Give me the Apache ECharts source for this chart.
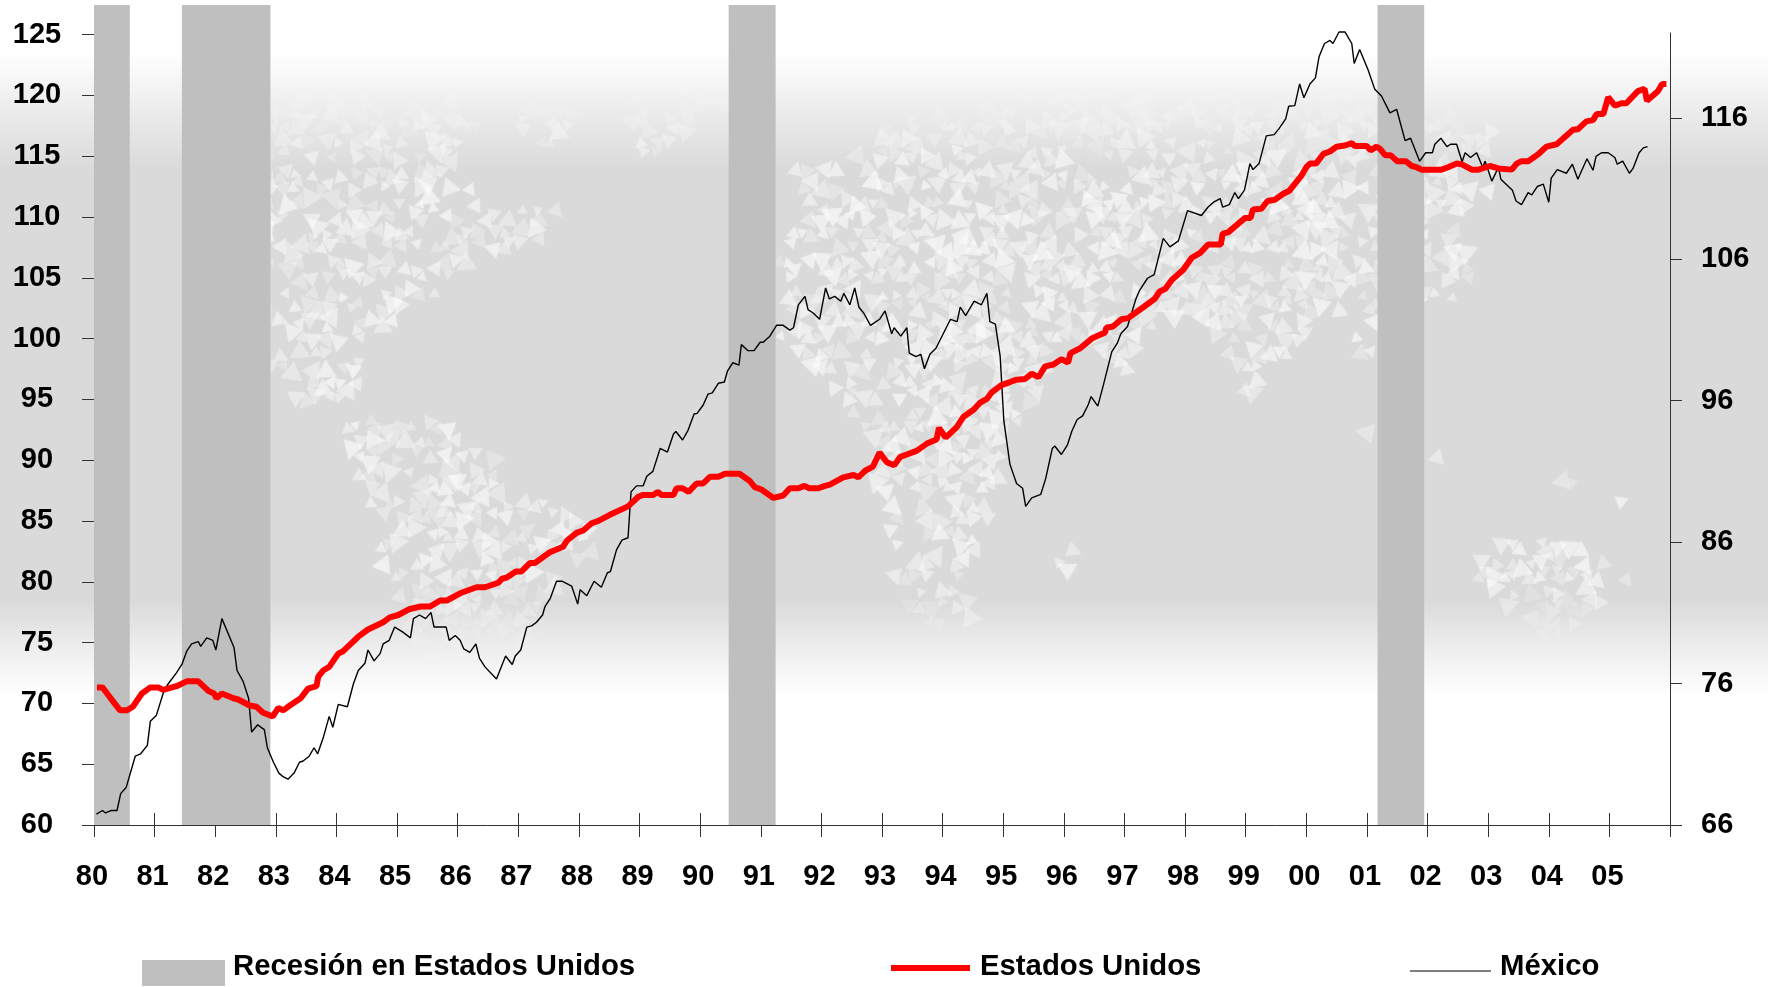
<!DOCTYPE html>
<html><head><meta charset="utf-8"><style>html,body{margin:0;padding:0;background:#fff}#c{width:1768px;height:987px}</style>
<script src="https://cdn.jsdelivr.net/npm/echarts@6/dist/echarts.min.js"></script></head><body><div id="c"></div>
<script>
const leftTicks=[60,65,70,75,80,85,90,95,100,105,110,115,120,125];
const rightTicks=[66,76,86,96,106,116];
const yearTicks=[1980,1981,1982,1983,1984,1985,1986,1987,1988,1989,1990,1991,1992,1993,1994,1995,1996,1997,1998,1999,2000,2001,2002,2003,2004,2005,2006];
const yearLabels=yearTicks.slice(0,26);
const recesiones=[[1980,1980.59],[1981.45,1982.91],[1990.47,1991.245],[2001.175,2001.945]];
const mexico=[[1980.04,60.9],[1980.14,61.2],[1980.19,61.0],[1980.28,61.2],[1980.38,61.2],[1980.44,62.6],[1980.53,63.1],[1980.68,65.7],[1980.77,65.9],[1980.88,66.6],[1980.93,68.6],[1981.03,69.1],[1981.14,70.9],[1981.21,71.6],[1981.36,72.6],[1981.45,73.3],[1981.53,74.4],[1981.61,75.0],[1981.72,75.2],[1981.76,74.8],[1981.86,75.5],[1981.96,75.3],[1982.01,74.5],[1982.11,77.1],[1982.31,74.7],[1982.36,72.8],[1982.46,71.9],[1982.55,70.5],[1982.60,67.7],[1982.70,68.3],[1982.81,67.9],[1982.86,66.4],[1982.96,65.2],[1983.05,64.3],[1983.12,64.0],[1983.20,63.8],[1983.30,64.3],[1983.39,65.2],[1983.45,65.3],[1983.55,65.7],[1983.63,66.4],[1983.69,65.9],[1983.78,67.2],[1983.88,69.0],[1983.94,68.1],[1984.03,70.0],[1984.18,69.8],[1984.28,71.7],[1984.36,72.8],[1984.47,73.4],[1984.52,74.5],[1984.62,73.6],[1984.72,74.2],[1984.77,75.0],[1984.87,75.3],[1984.96,76.4],[1985.09,76.0],[1985.22,75.5],[1985.27,77.1],[1985.37,77.4],[1985.47,77.1],[1985.56,77.6],[1985.61,76.4],[1985.81,76.4],[1985.86,75.3],[1985.96,75.7],[1986.04,75.3],[1986.10,74.6],[1986.20,74.3],[1986.30,75.0],[1986.36,73.8],[1986.45,73.1],[1986.64,72.1],[1986.79,74.0],[1986.90,73.3],[1986.95,74.0],[1987.04,74.5],[1987.14,76.4],[1987.22,76.5],[1987.30,76.8],[1987.40,77.4],[1987.44,78.1],[1987.53,78.8],[1987.63,80.2],[1987.72,80.2],[1987.88,79.8],[1987.98,78.3],[1988.02,79.5],[1988.13,79.0],[1988.25,80.2],[1988.37,79.7],[1988.47,80.9],[1988.52,81.0],[1988.62,82.8],[1988.71,83.6],[1988.81,83.8],[1988.86,87.6],[1988.95,88.1],[1989.06,88.1],[1989.12,88.9],[1989.22,89.3],[1989.34,91.2],[1989.46,90.9],[1989.56,92.4],[1989.60,92.6],[1989.71,91.9],[1989.80,92.7],[1989.90,94.05],[1989.95,94.1],[1990.05,94.8],[1990.13,95.7],[1990.20,95.8],[1990.30,96.6],[1990.40,96.7],[1990.45,97.6],[1990.54,98.3],[1990.64,98.1],[1990.68,99.8],[1990.79,99.3],[1990.89,99.3],[1990.99,100.0],[1991.04,100.0],[1991.15,100.5],[1991.26,101.4],[1991.37,101.4],[1991.48,101.0],[1991.54,101.2],[1991.62,103.1],[1991.73,103.8],[1991.78,102.7],[1991.87,102.4],[1991.97,101.9],[1992.07,104.5],[1992.13,103.6],[1992.22,103.8],[1992.32,103.4],[1992.37,104.05],[1992.47,103.1],[1992.55,104.5],[1992.62,102.9],[1992.70,102.4],[1992.81,101.4],[1992.96,101.9],[1993.05,102.6],[1993.16,100.7],[1993.20,101.2],[1993.31,100.5],[1993.41,101.2],[1993.45,99.1],[1993.56,98.8],[1993.64,99.0],[1993.70,97.8],[1993.79,99.0],[1993.89,99.5],[1994.13,101.9],[1994.24,101.7],[1994.29,102.9],[1994.38,102.2],[1994.52,103.4],[1994.64,103.1],[1994.73,104.05],[1994.78,101.7],[1994.87,101.5],[1994.95,98.8],[1995.01,93.5],[1995.11,89.9],[1995.22,88.3],[1995.32,87.9],[1995.37,86.4],[1995.47,87.1],[1995.62,87.4],[1995.70,88.7],[1995.81,91.2],[1995.85,91.4],[1995.96,90.7],[1996.06,91.5],[1996.13,92.6],[1996.22,93.6],[1996.31,93.9],[1996.40,94.8],[1996.45,95.5],[1996.56,94.7],[1996.65,96.4],[1996.79,99.2],[1996.88,99.9],[1996.94,100.7],[1997.05,101.3],[1997.19,103.6],[1997.25,104.3],[1997.38,105.3],[1997.49,105.6],[1997.64,108.6],[1997.75,107.9],[1997.89,108.4],[1998.04,110.9],[1998.27,110.5],[1998.38,111.2],[1998.47,111.6],[1998.58,111.9],[1998.62,111.2],[1998.73,111.4],[1998.82,112.4],[1998.88,111.9],[1998.98,112.6],[1999.07,114.8],[1999.12,114.3],[1999.22,114.8],[1999.34,117.1],[1999.47,117.2],[1999.55,117.7],[1999.66,118.5],[1999.71,119.55],[1999.81,119.6],[1999.89,121.4],[1999.96,120.25],[2000.06,121.4],[2000.15,121.9],[2000.21,123.65],[2000.30,124.75],[2000.39,125.0],[2000.44,124.75],[2000.54,125.7],[2000.64,125.7],[2000.75,124.75],[2000.79,123.1],[2000.88,124.25],[2001.02,122.55],[2001.13,120.95],[2001.24,120.4],[2001.38,119.0],[2001.49,119.3],[2001.63,116.7],[2001.72,116.9],[2001.87,115.0],[2001.97,115.7],[2002.08,115.7],[2002.12,116.4],[2002.22,116.9],[2002.32,116.2],[2002.38,116.4],[2002.48,116.4],[2002.57,114.95],[2002.62,115.7],[2002.71,115.3],[2002.81,115.7],[2002.91,114.5],[2002.95,115.0],[2003.06,113.35],[2003.17,114.5],[2003.21,113.5],[2003.40,112.6],[2003.46,111.7],[2003.55,111.4],[2003.66,112.4],[2003.72,112.2],[2003.81,112.9],[2003.91,113.1],[2004.00,111.6],[2004.04,113.6],[2004.14,114.3],[2004.29,114.0],[2004.39,114.75],[2004.48,113.5],[2004.63,115.2],[2004.73,114.25],[2004.78,115.4],[2004.87,115.7],[2004.98,115.7],[2005.09,115.3],[2005.13,114.75],[2005.22,115.0],[2005.33,114.0],[2005.39,114.4],[2005.49,115.7],[2005.56,116.1],[2005.63,116.2]];
const estadosUnidos=[[1980.05,71.4],[1980.14,71.4],[1980.26,70.6],[1980.43,69.5],[1980.54,69.5],[1980.64,69.8],[1980.79,70.9],[1980.93,71.4],[1981.06,71.4],[1981.14,71.2],[1981.36,71.5],[1981.53,71.9],[1981.72,71.9],[1981.89,71.1],[1981.98,70.9],[1982.02,70.5],[1982.11,70.9],[1982.30,70.5],[1982.38,70.4],[1982.57,69.9],[1982.68,69.8],[1982.79,69.3],[1982.95,69.0],[1983.04,69.7],[1983.12,69.5],[1983.23,69.9],[1983.41,70.5],[1983.53,71.3],[1983.67,71.5],[1983.70,72.3],[1983.78,72.8],[1983.88,73.1],[1984.03,74.2],[1984.11,74.4],[1984.36,75.6],[1984.52,76.2],[1984.77,76.8],[1984.88,77.2],[1985.02,77.4],[1985.21,77.9],[1985.39,78.1],[1985.54,78.1],[1985.71,78.6],[1985.82,78.6],[1986.04,79.2],[1986.31,79.7],[1986.45,79.7],[1986.67,80.07],[1986.73,80.4],[1986.81,80.5],[1986.96,81.0],[1987.05,81.0],[1987.19,81.7],[1987.27,81.7],[1987.52,82.6],[1987.74,83.05],[1987.80,83.55],[1987.96,84.2],[1988.07,84.4],[1988.21,85.0],[1988.32,85.2],[1988.51,85.7],[1988.81,86.4],[1988.98,87.2],[1989.06,87.35],[1989.23,87.35],[1989.30,87.6],[1989.36,87.35],[1989.56,87.35],[1989.61,87.9],[1989.71,87.9],[1989.81,87.6],[1989.94,88.3],[1990.05,88.3],[1990.16,88.85],[1990.30,88.85],[1990.41,89.1],[1990.65,89.1],[1990.82,88.5],[1990.90,88.0],[1991.01,87.8],[1991.21,87.1],[1991.37,87.3],[1991.48,87.9],[1991.62,87.9],[1991.72,88.1],[1991.80,87.9],[1991.95,87.9],[1992.06,88.1],[1992.14,88.2],[1992.36,88.8],[1992.53,89.0],[1992.61,88.8],[1992.72,89.35],[1992.85,89.7],[1992.96,90.85],[1993.08,90.05],[1993.20,89.8],[1993.30,90.5],[1993.41,90.7],[1993.57,91.0],[1993.74,91.6],[1993.90,91.95],[1993.94,92.9],[1994.05,92.1],[1994.23,92.95],[1994.34,93.8],[1994.51,94.4],[1994.62,95.0],[1994.73,95.3],[1994.81,95.85],[1994.97,96.45],[1995.11,96.7],[1995.22,96.9],[1995.36,96.95],[1995.47,97.4],[1995.58,97.1],[1995.69,98.0],[1995.83,98.15],[1995.96,98.6],[1996.07,98.3],[1996.11,99.1],[1996.27,99.5],[1996.46,100.3],[1996.68,100.8],[1996.70,101.2],[1996.81,101.3],[1996.95,101.9],[1997.06,102.0],[1997.31,102.9],[1997.50,103.6],[1997.58,104.2],[1997.67,104.4],[1997.78,105.15],[1997.97,106.0],[1998.11,107.0],[1998.25,107.4],[1998.38,108.1],[1998.59,108.1],[1998.62,109.0],[1998.71,109.1],[1998.99,110.3],[1999.08,110.3],[1999.12,111.0],[1999.26,111.06],[1999.36,111.7],[1999.48,111.8],[1999.62,112.3],[1999.72,112.55],[1999.84,113.3],[1999.92,113.8],[2000.00,114.5],[2000.06,114.8],[2000.16,114.8],[2000.28,115.6],[2000.39,115.8],[2000.50,116.2],[2000.64,116.3],[2000.75,116.5],[2000.80,116.25],[2001.00,116.25],[2001.06,115.9],[2001.16,116.2],[2001.22,116.0],[2001.30,115.5],[2001.39,115.5],[2001.50,115.0],[2001.64,115.0],[2001.74,114.6],[2001.82,114.5],[2001.90,114.3],[2002.23,114.3],[2002.34,114.5],[2002.48,114.8],[2002.56,114.75],[2002.73,114.3],[2002.84,114.3],[2003.03,114.6],[2003.17,114.4],[2003.39,114.3],[2003.47,114.8],[2003.55,115.0],[2003.66,115.0],[2003.82,115.55],[2003.96,116.2],[2004.13,116.4],[2004.40,117.6],[2004.48,117.65],[2004.62,118.3],[2004.73,118.4],[2004.79,118.9],[2004.90,118.9],[2004.98,120.3],[2005.09,119.6],[2005.20,119.8],[2005.28,119.8],[2005.47,120.8],[2005.58,121.0],[2005.62,120.0],[2005.80,120.8],[2005.87,121.4],[2005.94,121.4]];

// Decorative world-map backdrop (not data)
const S=1.1276;
const continents=[
 [[214,75],[320,70],[345,95],[400,90],[430,115],[405,150],[440,190],[500,180],[480,215],[440,225],[400,250],[370,275],[335,300],[320,345],[290,360],[250,330],[214,335]],
 [[445,85],[520,100],[490,130],[460,125]],
 [[240,345],[275,350],[300,375],[285,360],[250,350]],
 [[560,90],[600,70],[645,85],[640,100],[590,140],[560,135]],
 [[300,370],[380,370],[440,400],[445,440],[480,440],[530,470],[525,500],[490,530],[470,570],[420,600],[380,590],[340,510],[320,440]],
 [[698,140],[733,150],[710,173]],
 [[690,215],[730,150],[780,110],[900,85],[1050,80],[1200,85],[1330,110],[1320,170],[1290,190],[1310,250],[1270,290],[1225,285],[1215,330],[1180,270],[1140,320],[1110,360],[1075,290],[1030,285],[1000,330],[950,310],[900,380],[870,480],[860,555],[815,555],[785,500],[770,380],[690,300]],
 [[940,485],[952,488],[948,515],[936,512]],
 [[1205,380],[1225,385],[1220,405]],[[1265,395],[1290,405],[1270,412]],[[1370,405],[1420,440],[1375,425]],[[1430,440],[1445,440],[1435,450]],
 [[1320,480],[1380,470],[1420,490],[1450,520],[1400,555],[1370,575],[1340,540],[1300,525]],
 [[1262,500],[1285,510],[1280,518]]
];
function inside(p,poly){let c=false;for(let i=0,j=poly.length-1;i<poly.length;j=i++){const a=poly[i],b=poly[j];if((a[1]>p[1])!==(b[1]>p[1])&&p[0]<(b[0]-a[0])*(p[1]-a[1])/(b[1]-a[1])+a[0])c=!c;}return c;}
function h(a,b,k){let v=Math.sin(a*12.9898+b*78.233+k*37.719)*43758.5453;return v-Math.floor(v);}
const mapEls=[];
const step=30;
for(let i=0;i<54;i++)for(let j=0;j<21;j++){
 const cx=i*step+(j%2?step/2:0)+20, cy=60+j*step;
 if(cx<260)continue;
 const base=h(i,j,1)*6.283;
 for(let k=0;k<6;k++){
  if(h(i,j,k+10)<0.3)continue;
  const a=base+k*Math.PI/3, r=6+h(i,j,k+20)*7, d=r*0.9+2;
  const tx=cx+Math.cos(a)*d, ty=cy+Math.sin(a)*d;
  const pt=[tx/S,ty/S];
  if(!continents.some(c=>inside(pt,c)))continue;
  const rot=a+Math.PI+(h(i,j,k+50)-0.5)*1.2;
  const pts=[0,1,2].map(n=>{const t=rot+n*2.094;return [Math.max(271,tx+Math.cos(t)*r),ty+Math.sin(t)*r];});
  const fade=Math.min(1,Math.max(0.15,(ty-70)/100))*Math.min(1,Math.max(0.2,(665-ty)/90));
  const alpha=(0.22+h(i,j,k+40)*0.28)*fade;
  mapEls.push({type:'polygon',silent:true,z:0,shape:{points:pts},style:{fill:'rgba(255,255,255,'+alpha.toFixed(3)+')',shadowBlur:3,shadowColor:'rgba(255,255,255,'+alpha.toFixed(3)+')'}});
 }
}

const FONT='"Liberation Sans",Arial,sans-serif';
const DARK='#333';
const GL=94,GW=1576;
const lab={fontFamily:FONT,fontWeight:'bold',fontSize:29,color:'#000'};
const axLine={show:true,lineStyle:{color:DARK,width:1}};
const tickOut={show:true,length:12,lineStyle:{color:DARK,width:1}};
const tickIn={show:true,inside:true,length:12,lineStyle:{color:DARK,width:1}};
const legText={fontFamily:FONT,fontWeight:'bold',fontSize:29.3,color:'#000'};

const option={
 animation:false,
 backgroundColor:{type:'linear',x:0,y:0,x2:0,y2:1,colorStops:[
  {offset:0,color:'#ffffff'},{offset:52/987,color:'#ffffff'},{offset:80/987,color:'#f6f6f6'},{offset:110/987,color:'#ececec'},{offset:170/987,color:'#dadada'},
  {offset:600/987,color:'#dadada'},{offset:650/987,color:'#eeeeee'},{offset:695/987,color:'#ffffff'},{offset:1,color:'#ffffff'}]},
 graphic:{elements:mapEls},
 grid:[
  {left:GL,width:GW,top:33,height:792},
  {left:GL,width:GW,top:5,height:820},
  {left:GL,width:GW,top:34.7,height:790.3},
  {left:GL,width:GW,top:34.7,height:790.3}
 ],
 xAxis:[
  {type:'value',gridIndex:0,min:1980,max:2006,position:'bottom',splitLine:{show:false},axisLine:axLine,
   axisTick:Object.assign({customValues:yearTicks},tickOut),
   axisLabel:Object.assign({customValues:yearLabels,margin:37,padding:[0,4,0,0],formatter:v=>String(v).slice(2)},lab)},
  {type:'value',gridIndex:1,min:1980,max:2006,show:false},
  {type:'value',gridIndex:2,min:1980,max:2006,position:'bottom',splitLine:{show:false},axisLine:{show:false},
   axisTick:Object.assign({customValues:yearTicks},tickIn),axisLabel:{show:false}},
  {type:'value',gridIndex:3,min:1980,max:2006,show:false}
 ],
 yAxis:[
  {type:'value',gridIndex:0,min:60,max:125.62,position:'left',show:false},
  {type:'value',gridIndex:0,min:66,max:122,position:'right',splitLine:{show:false},axisLine:axLine,
   axisTick:Object.assign({customValues:rightTicks},tickOut),
   axisLabel:Object.assign({customValues:rightTicks,margin:31,align:'left',padding:[0,0,10,0]},lab)},
  {type:'value',gridIndex:1,min:0,max:1,show:false},
  {type:'value',gridIndex:2,min:60,max:125,interval:5,position:'left',splitLine:{show:false},axisLine:axLine,
   axisTick:tickOut,
   axisLabel:Object.assign({margin:57,align:'center',padding:[0,0,8,0]},lab)},
  {type:'value',gridIndex:3,min:60,max:125,interval:5,position:'left',splitLine:{show:false},axisLine:{show:false},
   axisTick:tickIn,axisLabel:{show:false}}
 ],
 legend:[
  {data:[{name:'Recesión en Estados Unidos',icon:'path://M0,0L0,0ZM0,14L83,14L83,40L0,40ZM83,42L83,42Z',itemStyle:{color:'#bfbfbf'}}],left:142,top:946,padding:0,itemWidth:83,itemHeight:42,symbolKeepAspect:false,selectedMode:false,textStyle:Object.assign({padding:[0,0,0,3]},legText)},
  {data:[{name:'Estados Unidos',icon:'path://M0,0L0,0ZM0,19L79,19L79,25L0,25ZM79,42L79,42Z',itemStyle:{color:'#ff0000'}}],left:891,top:946,padding:0,itemWidth:79,itemHeight:42,symbolKeepAspect:false,selectedMode:false,textStyle:Object.assign({padding:[0,0,0,5]},legText)},
  {data:[{name:'México',icon:'path://M0,0L0,0ZM0,24.5L81,24.5L81,25.5L0,25.5ZM81,42L81,42Z',itemStyle:{color:'#000'}}],left:1410,top:946,padding:0,itemWidth:81,itemHeight:42,symbolKeepAspect:false,selectedMode:false,textStyle:Object.assign({padding:[0,0,0,4]},legText)}
 ],
 series:[
  {type:'custom',name:'Recesión en Estados Unidos',xAxisIndex:1,yAxisIndex:2,z:1,silent:true,clip:false,data:recesiones,encode:{x:[0,1]},
   itemStyle:{color:'#bfbfbf'},
   renderItem:(p,api)=>{const a=api.coord([api.value(0),1]),b=api.coord([api.value(1),0]);
    return {type:'rect',shape:{x:a[0],y:a[1],width:b[0]-a[0],height:b[1]-a[1]},style:{fill:'#bfbfbf'}};}},
  {type:'line',name:'México',xAxisIndex:0,yAxisIndex:0,z:3,data:mexico,showSymbol:false,symbol:'none',clip:false,silent:true,lineStyle:{color:'#000',width:1.4},itemStyle:{color:'#000'}},
  {type:'line',name:'Estados Unidos',xAxisIndex:0,yAxisIndex:0,z:4,data:estadosUnidos,showSymbol:false,symbol:'none',clip:false,silent:true,lineStyle:{color:'#ff0000',width:6,join:'bevel'},itemStyle:{color:'#ff0000'}}
 ]
};
echarts.init(document.getElementById('c'),null,{renderer:'canvas'}).setOption(option);
</script></body></html>
